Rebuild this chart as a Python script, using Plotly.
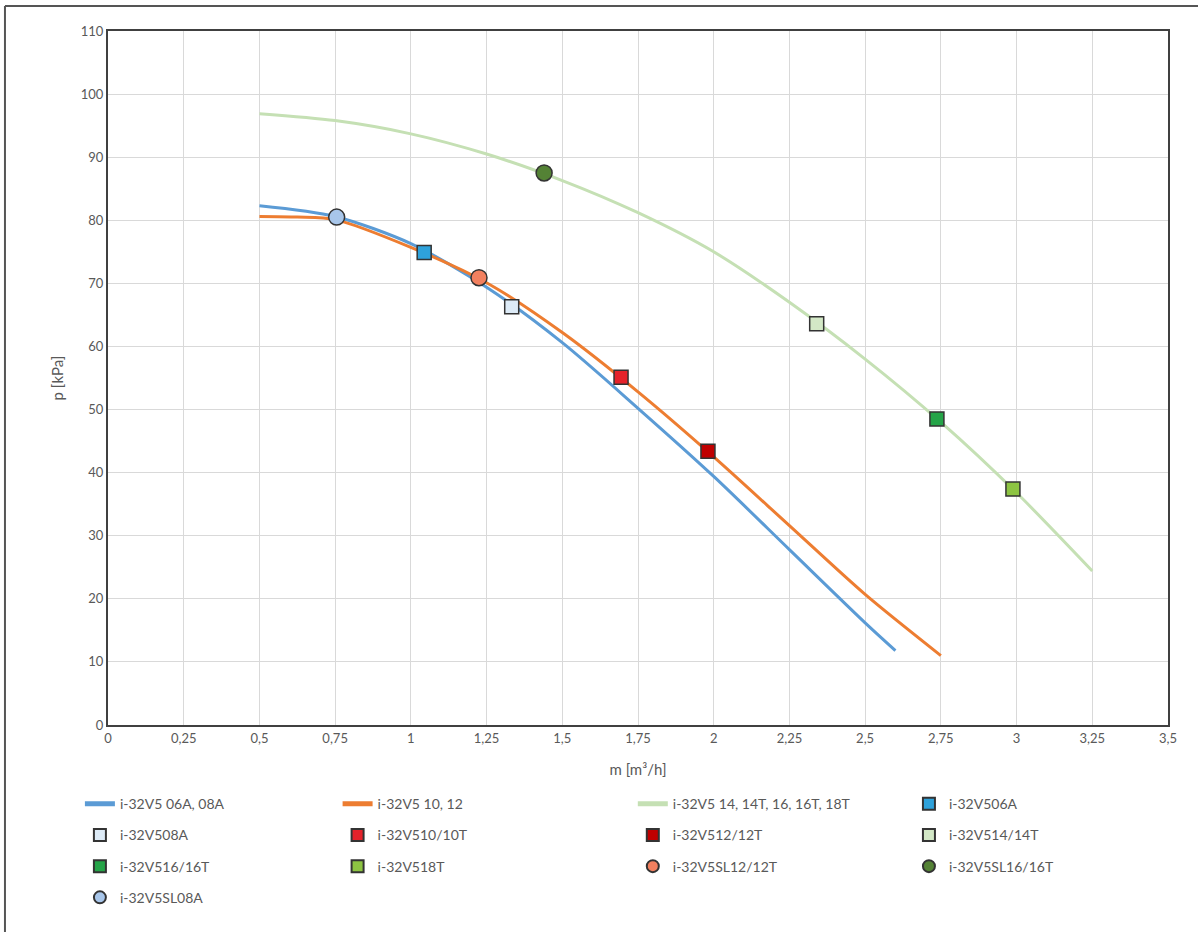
import plotly.graph_objects as go

# ---- data ----
blue_x = [0.5, 0.75, 1.0, 1.25, 1.5, 1.75, 2.0, 2.25, 2.5, 2.6]
blue_y = [82.3, 80.6, 76.3, 69.4, 60.6, 50.2, 39.4, 27.8, 16.2, 11.8]
orange_x = [0.5, 0.625, 0.75, 1.0, 1.25, 1.5, 1.75, 2.0, 2.25, 2.5, 2.75]
orange_y = [80.6, 80.5, 80.1, 75.7, 70.1, 62.2, 52.8, 42.5, 31.6, 20.7, 11.0]
green_x = [0.5, 0.75, 1.0, 1.25, 1.5, 1.75, 2.0, 2.25, 2.5, 2.75, 3.0, 3.25]
green_y = [96.9, 95.8, 93.7, 90.5, 86.3, 81.2, 75.0, 67.0, 58.0, 48.0, 36.8, 24.4]

line_names = ["i-32V5 06A, 08A", "i-32V5 10, 12", "i-32V5 14, 14T, 16, 16T, 18T"]

point_names = ["i-32V506A", "i-32V508A", "i-32V510/10T", "i-32V512/12T", "i-32V514/14T",
               "i-32V516/16T", "i-32V518T", "i-32V5SL12/12T", "i-32V5SL16/16T", "i-32V5SL08A"]
point_x = [1.044, 1.333, 1.694, 1.981, 2.34, 2.737, 2.988, 1.225, 1.44, 0.755]
point_y = [74.9, 66.3, 55.1, 43.4, 63.6, 48.5, 37.4, 70.9, 87.5, 80.5]
point_symbols = ["square", "square", "square", "square", "square",
                 "square", "square", "circle", "circle", "circle"]
point_colors = ["#2EA2DB", "#DDEBF7", "#E5222A", "#C00000", "#D3E8C6",
                "#25A448", "#8DC442", "#F2805F", "#548235", "#A8C6EA"]

x_ticks = [0, 0.25, 0.5, 0.75, 1, 1.25, 1.5, 1.75, 2, 2.25, 2.5, 2.75, 3, 3.25, 3.5]
x_labels = ["0", "0,25", "0,5", "0,75", "1", "1,25", "1,5", "1,75", "2", "2,25", "2,5",
            "2,75", "3", "3,25", "3,5"]
y_ticks = [0, 10, 20, 30, 40, 50, 60, 70, 80, 90, 100, 110]

# legend column assignment (reference layout)
line_legend = ["legend", "legend2", "legend3"]
point_legend = ["legend4", "legend", "legend2", "legend3", "legend4",
                "legend", "legend2", "legend3", "legend4", "legend"]

FONT = "Lato, 'Open Sans', sans-serif"
TXT = "#595959"

fig = go.Figure()
line_colors = ["#5B9BD5", "#ED7D31", "#C5E0B4"]
for i, (xs, ys) in enumerate([(blue_x, blue_y), (orange_x, orange_y), (green_x, green_y)]):
    fig.add_trace(go.Scatter(x=xs, y=ys, mode="lines", name=line_names[i],
                             line=dict(color=line_colors[i], width=3, shape="spline", smoothing=0.8),
                             legend=line_legend[i], legendgroup="l%d" % i))

for i, nm in enumerate(point_names):
    size = 14 if point_symbols[i] == "square" else 16
    fig.add_trace(go.Scatter(x=[point_x[i]], y=[point_y[i]], mode="markers", name=nm,
                             marker=dict(symbol=point_symbols[i], size=size, color=point_colors[i],
                                         line=dict(color="#333333", width=1.5)),
                             legend=point_legend[i], legendgroup="p%d" % i))

def leg(x):
    return dict(x=x, y=-0.091, xanchor="left", yanchor="top", orientation="v",
                tracegroupgap=10, font=dict(family=FONT, size=14, color=TXT),
                bgcolor="rgba(0,0,0,0)", itemsizing="constant")

fig.update_layout(
    width=1198, height=932,
    margin=dict(l=108, r=30, t=31, b=207),
    paper_bgcolor="white", plot_bgcolor="white",
    font=dict(family=FONT, size=13, color=TXT),
    legend=leg(-0.0265), legend2=leg(0.2166), legend3=leg(0.4951), legend4=leg(0.7556),
    xaxis=dict(range=[0, 3.5], tickvals=x_ticks, ticktext=x_labels, showgrid=True,
               gridcolor="#D9D9D9", gridwidth=1, zeroline=False, showline=True,
               linecolor="#404040", linewidth=2, mirror=True, ticks="",
               tickfont=dict(family=FONT, size=13, color=TXT),
               title=dict(text="m [m³/h]", font=dict(family=FONT, size=15, color=TXT), standoff=20)),
    yaxis=dict(range=[0, 110], tickvals=y_ticks, showgrid=True,
               gridcolor="#D9D9D9", gridwidth=1, zeroline=False, showline=True,
               linecolor="#404040", linewidth=2, mirror=True, ticks="",
               tickfont=dict(family=FONT, size=13, color=TXT),
               title=dict(text="p [kPa]", font=dict(family=FONT, size=15, color=TXT), standoff=14)),
    showlegend=True,
)

# outer chart border (top and left edges visible in reference)
fig.add_shape(type="line", xref="paper", yref="paper", x0=-0.0972, x1=1.05, y0=1.036, y1=1.036,
              line=dict(color="#555555", width=2))
fig.add_shape(type="line", xref="paper", yref="paper", x0=-0.0972, x1=-0.0972, y0=-0.32, y1=1.036,
              line=dict(color="#555555", width=2))

fig.write_html("out.html", config={"displayModeBar": False},
               post_script="document.body.style.margin='0';")
